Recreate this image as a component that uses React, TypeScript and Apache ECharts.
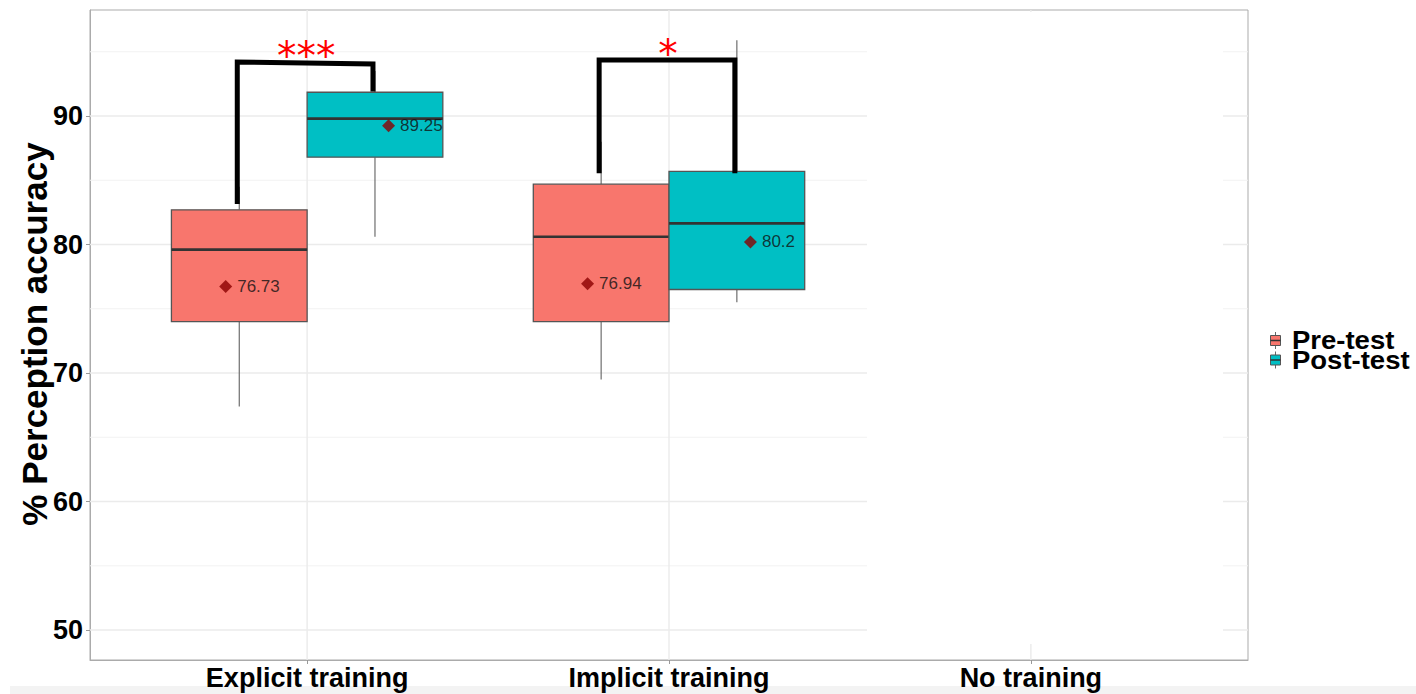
import React, { useEffect, useRef } from "react";
import * as echarts from "echarts";

// ---------- data ----------
const categories = ["Explicit training", "Implicit training", "No training"];
const groupNames = ["Pre-test", "Post-test"];
const groupColors = ["#F8766D", "#00BFC4"];
// [lower whisker, Q1, median, Q3, upper whisker] for Explicit, Implicit
const preTestBox = [
  [67.4, 74.0, 79.6, 82.7, 84.5],
  [69.5, 74.0, 80.6, 84.7, 88.0],
];
const postTestBox = [
  [80.6, 86.8, 89.8, 91.85, 93.5],
  [75.5, 76.5, 81.65, 85.7, 95.9],
];
const preTestMean = [76.73, 76.94];
const postTestMean = [89.25, 80.2];
const yTickValues = [50, 60, 70, 80, 90];
const yMinorValues = [55, 65, 75, 85, 95];
const sigLabels = ["***", "*"];
// bracket levels: [left bottom, left top, right top, right bottom]
const bracketLevels = [
  [83.15, 94.2, 94.05, 91.9],
  [85.55, 94.35, 94.35, 85.55],
];

// ---------- layout constants ----------
const X_MIN = 0.4;
const X_MAX = 3.6;
const Y_MIN = 47.67;
const Y_MAX = 98.25;
const BOX_DODGE = 0.1875;
const BOX_HALF = 0.1875;
const MEAN_DODGE = 0.225;
const FONT = '"Liberation Sans", Arial, Helvetica, sans-serif';

const catPositions = categories.map((_, i) => i + 1);

export default function App() {
  const ref = useRef<HTMLDivElement>(null);

  useEffect(() => {
    document.body.style.margin = "0";
    if (!ref.current) return;
    const chart = echarts.init(ref.current, undefined, { renderer: "svg" });

    const boxData: number[][] = [];
    [preTestBox, postTestBox].forEach((boxes, g) => {
      boxes.forEach((b, i) => boxData.push([i + 1, g, ...b]));
    });

    const gridData = [
      ...yMinorValues.map((v) => [1, v, 0]),
      ...yTickValues.map((v) => [1, v, 1]),
    ];

    const meanSeries = [preTestMean, postTestMean].map((means, g) => ({
      type: "scatter",
      name: groupNames[g] + " mean",
      z: 6,
      symbol: "diamond",
      symbolSize: [13, 13],
      itemStyle: { color: "#8B0000" },
      data: means.map((m, i) => [i + 1 + (g === 0 ? -MEAN_DODGE : MEAN_DODGE), m]),
      label: {
        show: true,
        position: "right",
        distance: 5,
        formatter: (p: any) => String(p.value[1]),
        fontSize: 17,
        color: "#111",
        fontFamily: FONT,
      },
      silent: true,
    }));

    const legendItems: any[] = [];
    groupNames.forEach((name, g) => {
      const cy = 340.5 + g * 19.5;
      legendItems.push(
        {
          type: "line",
          z: 10,
          shape: { x1: 1275.5, y1: cy - 8.5, x2: 1275.5, y2: cy + 8.5 },
          style: { stroke: "#666", lineWidth: 1 },
        },
        {
          type: "rect",
          z: 10,
          shape: { x: 1270.5, y: cy - 5, width: 10, height: 10 },
          style: { fill: groupColors[g], stroke: "#555", lineWidth: 1 },
        },
        {
          type: "line",
          z: 10,
          shape: { x1: 1270.5, y1: cy, x2: 1280.5, y2: cy },
          style: { stroke: "#333", lineWidth: 1.5 },
        },
        {
          type: "text",
          z: 10,
          x: 1292,
          y: cy,
          scaleX: 1.1,
          style: {
            text: name,
            fontSize: 25,
            fontWeight: "bold",
            fontFamily: FONT,
            fill: "#000",
            textAlign: "left",
            textVerticalAlign: "middle",
            align: "left",
            verticalAlign: "middle",
          },
        }
      );
    });

    const option: any = {
      animation: false,
      backgroundColor: "#ffffff",
      grid: {
        left: 90,
        right: 168,
        top: 10,
        bottom: 34,
        show: true,
        borderColor: "#ababab",
        borderWidth: 1,
      },
      xAxis: {
        type: "value",
        min: X_MIN,
        max: X_MAX,
        axisLine: { show: true, lineStyle: { color: "#ababab" } },
        axisTick: {
          show: true,
          length: 4,
          customValues: catPositions,
          lineStyle: { color: "#999" },
        },
        axisLabel: {
          customValues: catPositions,
          formatter: (v: number) => categories[Math.round(v) - 1] || "",
          fontSize: 27,
          fontWeight: "bold",
          color: "#000",
          fontFamily: FONT,
          margin: 4,
        },
        splitLine: { show: false },
      },
      yAxis: {
        type: "value",
        min: Y_MIN,
        max: Y_MAX,
        axisLine: { show: true, lineStyle: { color: "#ababab" } },
        axisTick: {
          show: true,
          length: 4,
          customValues: yTickValues,
          lineStyle: { color: "#999" },
        },
        axisLabel: {
          customValues: yTickValues,
          fontSize: 27,
          fontWeight: "bold",
          color: "#000",
          fontFamily: FONT,
          margin: 7,
        },
        splitLine: { show: false },
      },
      graphic: {
        elements: [
          // white patch over the empty right part of the panel
          {
            type: "rect",
            z: 2,
            shape: { x: 867, y: 12, width: 356, height: 632 },
            style: { fill: "#ffffff" },
            silent: true,
          },
          // light grey band at the bottom of the picture
          {
            type: "rect",
            z: -5,
            shape: { x: 10, y: 686, width: 1406, height: 8 },
            style: { fill: "#f3f3f3" },
            silent: true,
          },
          {
            type: "text",
            z: 10,
            x: 34,
            y: 334,
            rotation: Math.PI / 2,
            style: {
              text: "% Perception accuracy",
              fontSize: 35,
              fontWeight: "bold",
              fontFamily: FONT,
              fill: "#000",
              textAlign: "center",
              textVerticalAlign: "middle",
              align: "center",
              verticalAlign: "middle",
            },
          },
          ...legendItems,
        ],
      },
      series: [
        // horizontal grid lines
        {
          type: "custom",
          name: "hgrid",
          z: 1,
          silent: true,
          encode: { x: 0, y: 1 },
          data: gridData,
          renderItem: (params: any, api: any) => {
            const y = api.coord([1, api.value(1)])[1];
            const cs = params.coordSys;
            return {
              type: "line",
              shape: { x1: cs.x, y1: y, x2: cs.x + cs.width, y2: y },
              style: { stroke: api.value(2) ? "#ebebeb" : "#f2f2f2", lineWidth: api.value(2) ? 1.4 : 1 },
            };
          },
        },
        // vertical grid lines
        {
          type: "custom",
          name: "vgrid",
          z: 1,
          silent: true,
          encode: { x: 0, y: 1 },
          data: catPositions.map((c) => [c, 70]),
          renderItem: (params: any, api: any) => {
            const x = api.coord([api.value(0), 70])[0];
            const cs = params.coordSys;
            return {
              type: "line",
              shape: { x1: x, y1: cs.y, x2: x, y2: cs.y + cs.height },
              style: { stroke: "#ebebeb", lineWidth: 1.4 },
            };
          },
        },
        // boxes
        {
          type: "custom",
          name: "boxes",
          z: 3,
          silent: true,
          encode: { x: 0, y: [2, 3, 4, 5, 6] },
          data: boxData,
          renderItem: (params: any, api: any) => {
            const cat = api.value(0);
            const g = api.value(1);
            const c = cat + (g === 0 ? -BOX_DODGE : BOX_DODGE);
            const lo = api.value(2);
            const q1 = api.value(3);
            const med = api.value(4);
            const q3 = api.value(5);
            const hi = api.value(6);
            const pTL = api.coord([c - BOX_HALF, q3]);
            const pBR = api.coord([c + BOX_HALF, q1]);
            const xc = api.coord([c, med])[0];
            const ymed = api.coord([c, med])[1];
            const ylo = api.coord([c, lo])[1];
            const yhi = api.coord([c, hi])[1];
            return {
              type: "group",
              children: [
                {
                  type: "line",
                  shape: { x1: xc, y1: yhi, x2: xc, y2: pTL[1] },
                  style: { stroke: "#6e6e6e", lineWidth: 1.2 },
                },
                {
                  type: "line",
                  shape: { x1: xc, y1: pBR[1], x2: xc, y2: ylo },
                  style: { stroke: "#6e6e6e", lineWidth: 1.2 },
                },
                {
                  type: "rect",
                  shape: { x: pTL[0], y: pTL[1], width: pBR[0] - pTL[0], height: pBR[1] - pTL[1] },
                  style: { fill: groupColors[g], stroke: "#555555", lineWidth: 1.3 },
                },
                {
                  type: "line",
                  shape: { x1: pTL[0], y1: ymed, x2: pBR[0], y2: ymed },
                  style: { stroke: "#333333", lineWidth: 2.6 },
                },
              ],
            };
          },
        },
        // significance brackets
        {
          type: "custom",
          name: "brackets",
          z: 4,
          silent: true,
          encode: { x: 0, y: [1, 2, 3, 4] },
          data: bracketLevels.map((b, i) => [i + 1, ...b]),
          renderItem: (params: any, api: any) => {
            const cat = api.value(0);
            const xl = api.coord([cat - BOX_DODGE, 70])[0] - 2;
            const xr = api.coord([cat + BOX_DODGE, 70])[0] - 2;
            const xm = api.coord([cat, 70])[0];
            const y0 = api.coord([cat, api.value(1)])[1];
            const y1 = api.coord([cat, api.value(2)])[1];
            const y2 = api.coord([cat, api.value(3)])[1];
            const y3 = api.coord([cat, api.value(4)])[1];
            return {
              type: "group",
              children: [
                {
                  type: "polyline",
                  shape: { points: [[xl, y0], [xl, y1], [xr, y2], [xr, y3]] },
                  style: { stroke: "#000", lineWidth: 5, fill: "none", lineJoin: "miter" },
                },
                {
                  type: "text",
                  x: xm - 1,
                  y: Math.min(y1, y2) - 7,
                  style: {
                    text: sigLabels[params.dataIndex],
                    fontSize: 39,
                    fontFamily: '"DejaVu Sans", sans-serif',
                    fill: "#ff0000",
                    textAlign: "center",
                    textVerticalAlign: "middle",
                    align: "center",
                    verticalAlign: "middle",
                  },
                },
              ],
            };
          },
        },
        ...meanSeries,
      ],
    };

    chart.setOption(option);
    return () => chart.dispose();
  }, []);

  return <div ref={ref} style={{ width: 1416, height: 694 }} />;
}
